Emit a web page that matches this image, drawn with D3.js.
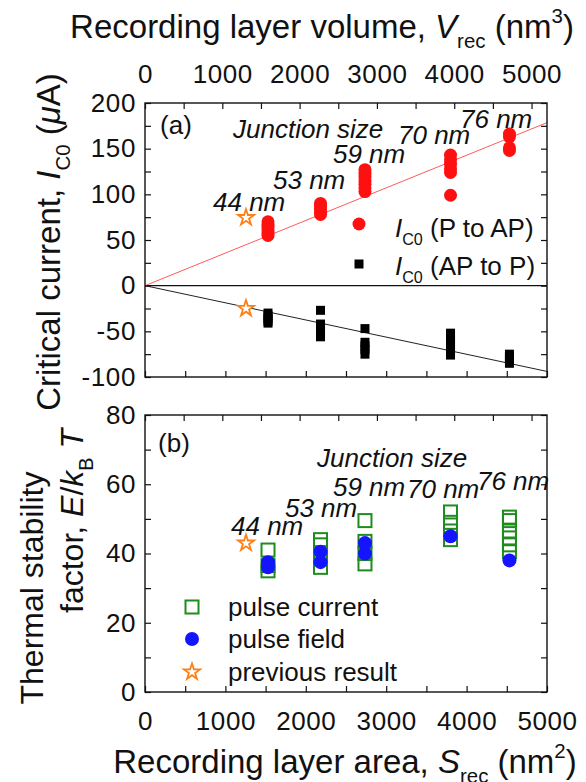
<!DOCTYPE html>
<html>
<head>
<meta charset="utf-8">
<script src="https://cdn.jsdelivr.net/npm/d3@7"></script>
<style>
  body { margin: 0; background: #fff; }
  text { font-family: "Liberation Sans", Arial, sans-serif; white-space: pre; fill: #111; }
</style>
</head>
<body>
<div id="chart"></div>
<script>
// junction sizes and their recording layer areas (nm^2)
var sizeLabels = ["44 nm", "53 nm", "59 nm", "70 nm", "76 nm"];
var junctionArea = [1530, 2183, 2736, 3800, 4533];

// critical current, uA
var icPtoAP = [
  [55, 58, 61, 64, 67, 70],
  [78, 81, 84, 87, 90],
  [103, 107, 111, 115, 119, 123, 127],
  [99, 124, 128, 133, 138, 143],
  [148, 151, 163, 166]
];
var icAPtoP = [
  [-30, -33, -36, -39, -41],
  [-27, -42, -46, -50, -54, -56],
  [-47, -62, -66, -70, -75],
  [-52, -56, -60, -64, -68, -72, -76],
  [-75, -78, -81, -85]
];

// thermal stability factor
var deltaPulseCurrent = [
  [35, 36.5, 41],
  [36, 39, 42.5, 44],
  [37, 40, 43.5, 49.5],
  [44, 46.5, 49, 52],
  [40.5, 42.5, 44.5, 46.5, 49.5, 50.5]
];
var deltaPulseField = [
  [36, 37.5],
  [37.5, 40.5],
  [40, 43],
  [45],
  [38]
];

// previous result
var prevArea = 1256;
var prevIc = [74.5, -25];
var prevDelta = 43;

// linear fits through origin (uA per nm^2)
var fitSlope = [0.0357, -0.01878];

var areaTicks = d3.range(0, 5001, 500);
var volTicks = d3.range(0, 5001, 500);

var W = 586, H = 782;
var left = 145, right = 547;

var svg = d3.select("#chart").append("svg")
  .attr("width", W).attr("height", H);

var x = d3.scaleLinear().domain([0, 5000]).range([left, right]);
var xVol = d3.scaleLinear().domain([0, 5200]).range([left, right]);
var yA = d3.scaleLinear().domain([-100, 200]).range([377, 103]);
var yB = d3.scaleLinear().domain([0, 80]).range([692, 415]);

var red = "#ff1010", green = "#1e8c1e", blue = "#1414ff", orange = "#ff7f14";

function richText(sel, parts, size) {
  parts.forEach(function(p) {
    var ts = sel.append("tspan").text(p.t);
    if (p.i) ts.attr("font-style", "italic");
    if (p.sub) ts.attr("font-size", size * 0.62).attr("dy", size * 0.3);
    if (p.sup) ts.attr("font-size", size * 0.62).attr("dy", -size * 0.45);
    if (p.dy) ts.attr("dy", p.dy);
  });
}

function fmt(d) { return d % 1000 === 0 ? d : ""; }

function styleAxis(g) {
  g.select(".domain").remove();
  g.selectAll(".tick line").attr("stroke", "#111").attr("stroke-width", 1.2);
  g.selectAll(".tick text").attr("font-size", 26).attr("fill", "#111")
    .attr("letter-spacing", 0.6)
    .attr("font-family", "Liberation Sans, Arial, sans-serif");
}

// ---------- panel (a) ----------
var clipA = svg.append("clipPath").attr("id", "clipA")
  .append("rect").attr("x", left).attr("y", 103).attr("width", right - left).attr("height", 274);

svg.append("g").attr("transform", "translate(0,103)")
  .call(d3.axisTop(xVol).tickValues(volTicks).tickSize(-6).tickPadding(20).tickFormat(fmt))
  .call(styleAxis);
svg.append("g").attr("transform", "translate(0,377)")
  .call(d3.axisBottom(x).tickValues(areaTicks).tickSize(-6).tickFormat(""))
  .call(styleAxis);
svg.append("g").attr("transform", "translate(" + left + ",0)")
  .call(d3.axisLeft(yA).tickValues(d3.range(-100, 201, 25)).tickSize(-6).tickPadding(9)
    .tickFormat(function(d) { return d % 50 === 0 ? d : ""; }))
  .call(styleAxis);
svg.append("g").attr("transform", "translate(" + right + ",0)")
  .call(d3.axisRight(yA).tickValues(d3.range(-100, 201, 25)).tickSize(-6).tickFormat(""))
  .call(styleAxis);

var plotA = svg.append("g").attr("clip-path", "url(#clipA)");

plotA.append("line")
  .attr("x1", x(0)).attr("x2", x(5000)).attr("y1", yA(0)).attr("y2", yA(0))
  .attr("stroke", "#111").attr("stroke-width", 1.2);

plotA.selectAll("line.fit").data(fitSlope).enter().append("line")
  .attr("class", "fit")
  .attr("x1", x(0)).attr("y1", yA(0))
  .attr("x2", x(5000)).attr("y2", function(d) { return yA(d * 5000); })
  .attr("stroke", function(d, i) { return i === 0 ? "#ff5a5a" : "#222"; })
  .attr("stroke-width", 1);

var redPts = [], blackPts = [];
icPtoAP.forEach(function(vals, i) { vals.forEach(function(v) { redPts.push([junctionArea[i], v]); }); });
icAPtoP.forEach(function(vals, i) { vals.forEach(function(v) { blackPts.push([junctionArea[i], v]); }); });

plotA.selectAll("circle.p2ap").data(redPts).enter().append("circle")
  .attr("class", "p2ap")
  .attr("cx", function(d) { return x(d[0]); })
  .attr("cy", function(d) { return yA(d[1]); })
  .attr("r", 6.5).attr("fill", red);

plotA.selectAll("rect.ap2p").data(blackPts).enter().append("rect")
  .attr("class", "ap2p")
  .attr("x", function(d) { return x(d[0]) - 4.5; })
  .attr("y", function(d) { return yA(d[1]) - 4.5; })
  .attr("width", 9).attr("height", 9).attr("fill", "#000");

var star = d3.symbol().type(d3.symbolStar).size(80);
plotA.selectAll("path.prev").data(prevIc).enter().append("path")
  .attr("class", "prev")
  .attr("d", star)
  .attr("transform", function(d) { return "translate(" + x(prevArea) + "," + yA(d) + ")"; })
  .attr("fill", "#fff").attr("stroke", orange).attr("stroke-width", 1.8);

svg.append("rect").attr("x", left).attr("y", 103).attr("width", right - left).attr("height", 274)
  .attr("fill", "none").attr("stroke", "#111").attr("stroke-width", 1.4);

// annotations (a), in data units
var annA = [
  { t: "(a)", a: 187, v: 166.5, it: false },
  { t: "Junction size", a: 1095, v: 162, it: true },
  { t: sizeLabels[0], a: 846, v: 82, it: true },
  { t: sizeLabels[1], a: 1592, v: 106, it: true },
  { t: sizeLabels[2], a: 2338, v: 134, it: true },
  { t: sizeLabels[3], a: 3147, v: 155.5, it: true },
  { t: sizeLabels[4], a: 3918, v: 173, it: true }
];
svg.selectAll("text.annA").data(annA).enter().append("text")
  .attr("class", "annA")
  .attr("x", function(d) { return x(d.a); })
  .attr("y", function(d) { return yA(d.v); })
  .attr("font-size", 26)
  .attr("font-style", function(d) { return d.it ? "italic" : "normal"; })
  .text(function(d) { return d.t; });

// legend (a)
svg.append("circle").attr("cx", 359).attr("cy", 224).attr("r", 6.5).attr("fill", red);
richText(svg.append("text").attr("x", 395).attr("y", 237).attr("font-size", 26),
  [{ t: "I", i: true }, { t: "C0", sub: true }, { t: " (P to AP)", dy: -26 * 0.3 }], 26);
svg.append("rect").attr("x", 354.5).attr("y", 259.5).attr("width", 9).attr("height", 9).attr("fill", "#000");
richText(svg.append("text").attr("x", 395).attr("y", 275).attr("font-size", 26),
  [{ t: "I", i: true }, { t: "C0", sub: true }, { t: " (AP to P)", dy: -26 * 0.3 }], 26);

// ---------- panel (b) ----------
svg.append("g").attr("transform", "translate(0,415)")
  .call(d3.axisTop(xVol).tickValues(volTicks).tickSize(-6).tickFormat(""))
  .call(styleAxis);
svg.append("g").attr("transform", "translate(0,692)")
  .call(d3.axisBottom(x).tickValues(areaTicks).tickSize(-6).tickPadding(20).tickFormat(fmt))
  .call(styleAxis);
svg.append("g").attr("transform", "translate(" + left + ",0)")
  .call(d3.axisLeft(yB).tickValues(d3.range(0, 81, 10)).tickSize(-6).tickPadding(9)
    .tickFormat(function(d) { return d % 20 === 0 ? d : ""; }))
  .call(styleAxis);
svg.append("g").attr("transform", "translate(" + right + ",0)")
  .call(d3.axisRight(yB).tickValues(d3.range(0, 81, 10)).tickSize(-6).tickFormat(""))
  .call(styleAxis);

var greenPts = [], bluePts = [];
deltaPulseCurrent.forEach(function(vals, i) { vals.forEach(function(v) { greenPts.push([junctionArea[i], v]); }); });
deltaPulseField.forEach(function(vals, i) { vals.forEach(function(v) { bluePts.push([junctionArea[i], v]); }); });

svg.selectAll("rect.pc").data(greenPts).enter().append("rect")
  .attr("class", "pc")
  .attr("x", function(d) { return x(d[0]) - 6.5; })
  .attr("y", function(d) { return yB(d[1]) - 6.5; })
  .attr("width", 13).attr("height", 13)
  .attr("fill", "none").attr("stroke", green).attr("stroke-width", 2);

svg.selectAll("circle.pf").data(bluePts).enter().append("circle")
  .attr("class", "pf")
  .attr("cx", function(d) { return x(d[0]); })
  .attr("cy", function(d) { return yB(d[1]); })
  .attr("r", 7).attr("fill", blue);

svg.append("path").attr("d", star)
  .attr("transform", "translate(" + x(prevArea) + "," + yB(prevDelta) + ")")
  .attr("fill", "#fff").attr("stroke", orange).attr("stroke-width", 1.8);

svg.append("rect").attr("x", left).attr("y", 415).attr("width", right - left).attr("height", 277)
  .attr("fill", "none").attr("stroke", "#111").attr("stroke-width", 1.4);

var annB = [
  { t: "(b)", a: 162, v: 69.3, it: false },
  { t: "Junction size", a: 2139, v: 65, it: true },
  { t: sizeLabels[0], a: 1070, v: 45.3, it: true },
  { t: sizeLabels[1], a: 1741, v: 50.5, it: true },
  { t: sizeLabels[2], a: 2338, v: 56.6, it: true },
  { t: sizeLabels[3], a: 3259, v: 56, it: true },
  { t: sizeLabels[4], a: 4129, v: 58.3, it: true }
];
svg.selectAll("text.annB").data(annB).enter().append("text")
  .attr("class", "annB")
  .attr("x", function(d) { return x(d.a); })
  .attr("y", function(d) { return yB(d.v); })
  .attr("font-size", 26)
  .attr("font-style", function(d) { return d.it ? "italic" : "normal"; })
  .text(function(d) { return d.t; });

// legend (b)
svg.append("rect").attr("x", 185.5).attr("y", 600.5).attr("width", 13).attr("height", 13)
  .attr("fill", "none").attr("stroke", green).attr("stroke-width", 2);
svg.append("text").attr("x", 228).attr("y", 616).attr("font-size", 26).text("pulse current");
svg.append("circle").attr("cx", 192).attr("cy", 639).attr("r", 7).attr("fill", blue);
svg.append("text").attr("x", 228).attr("y", 648).attr("font-size", 26).text("pulse field");
svg.append("path").attr("d", star).attr("transform", "translate(192,672)")
  .attr("fill", "#fff").attr("stroke", orange).attr("stroke-width", 1.8);
svg.append("text").attr("x", 228).attr("y", 681).attr("font-size", 26).text("previous result");

// ---------- axis titles ----------
var T = 33;
richText(svg.append("text").attr("x", 322).attr("y", 38).attr("font-size", T).attr("text-anchor", "middle"),
  [{ t: "Recording layer volume, " }, { t: "V", i: true }, { t: "rec", sub: true },
   { t: " (nm", dy: -T * 0.3 }, { t: "3", sup: true }, { t: ")", dy: T * 0.45 }], T);

richText(svg.append("text").attr("x", 345).attr("y", 773).attr("font-size", T).attr("text-anchor", "middle"),
  [{ t: "Recording layer area, " }, { t: "S", i: true }, { t: "rec", sub: true },
   { t: " (nm", dy: -T * 0.3 }, { t: "2", sup: true }, { t: ")", dy: T * 0.45 }], T);

richText(svg.append("text").attr("transform", "translate(60,242) rotate(-90)")
  .attr("font-size", T).attr("text-anchor", "middle"),
  [{ t: "Critical current, " }, { t: "I", i: true }, { t: "C0", sub: true },
   { t: " (", dy: -T * 0.3 }, { t: "\u03bc", i: true }, { t: "A)" }], T);

var T2 = 32;
svg.append("text").attr("transform", "translate(43,588) rotate(-90)")
  .attr("font-size", T2).attr("text-anchor", "middle").text("Thermal stability");

richText(svg.append("text").attr("transform", "translate(83,521) rotate(-90)")
  .attr("font-size", T2).attr("text-anchor", "middle"),
  [{ t: "factor, " }, { t: "E", i: true }, { t: "/" }, { t: "k", i: true }, { t: "B", sub: true },
   { t: " ", dy: -T2 * 0.3 }, { t: "T", i: true }], T2);
</script>
</body>
</html>
